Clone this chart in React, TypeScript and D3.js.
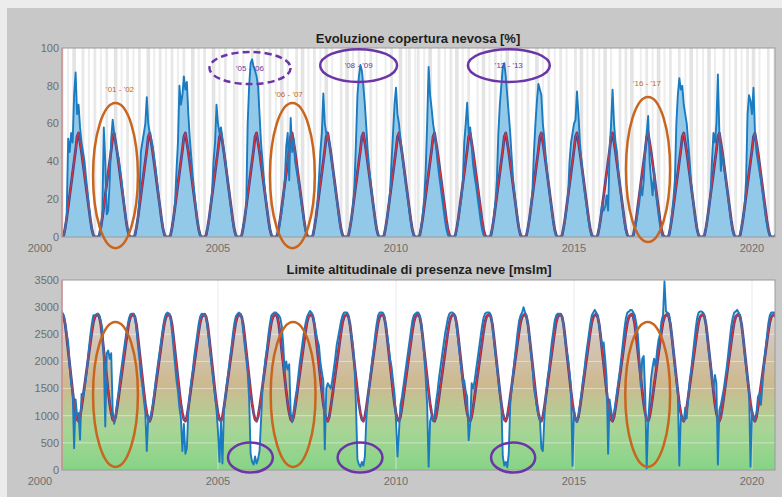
import React from "react";
import * as d3 from "d3";

// semi-monthly samples, each row is one season: 1 Aug .. 16 Jul
const START = 2000 + 7 / 12;
const STEP = 1 / 24;

const yearTicks = [2000, 2005, 2010, 2015, 2020];
const coverTicks = [0, 20, 40, 60, 80, 100];
const altitudeTicks = [0, 500, 1000, 1500, 2000, 2500, 3000, 3500];

// mean seasonal cycle (red line)
const coverClimate = [0, 0, 1, 5, 10, 16, 22, 28, 34, 40, 46, 53, 55, 50, 45, 39, 33, 27, 21, 15, 9, 4, 1, 0];
const altitudeClimate = [2850, 2870, 2820, 2680, 2450, 2200, 1950, 1700, 1450, 1220, 1050, 930, 900, 980, 1150, 1350, 1550, 1750, 1950, 2150, 2350, 2550, 2720, 2820];

// snow cover [%] (blue line)
const coverRows = [
  [0, 0, 1, 4, 12, 52, 45, 55, 50, 75, 87, 65, 70, 58, 50, 45, 40, 32, 24, 16, 9, 4, 1, 0],
  [0, 0, 1, 4, 12, 58, 40, 12, 14, 30, 52, 62, 55, 50, 45, 42, 36, 30, 22, 15, 9, 4, 1, 0],
  [0, 0, 1, 5, 10, 20, 45, 50, 55, 60, 74, 60, 55, 52, 48, 42, 36, 29, 21, 15, 9, 4, 1, 0],
  [0, 0, 1, 5, 10, 18, 35, 50, 80, 70, 75, 85, 78, 82, 65, 52, 42, 32, 24, 16, 9, 4, 1, 0],
  [0, 0, 1, 5, 9, 16, 24, 40, 50, 70, 60, 55, 58, 52, 45, 40, 33, 27, 20, 14, 8, 3, 1, 0],
  [0, 0, 1, 5, 10, 16, 60, 80, 92, 94, 90, 88, 85, 80, 65, 50, 40, 30, 22, 15, 9, 4, 1, 0],
  [0, 0, 1, 4, 9, 14, 20, 30, 48, 55, 30, 63, 45, 52, 40, 35, 30, 25, 19, 14, 8, 3, 1, 0],
  [0, 0, 1, 5, 10, 18, 30, 45, 55, 76, 60, 55, 52, 50, 45, 38, 32, 26, 20, 14, 8, 3, 1, 0],
  [0, 0, 1, 5, 10, 16, 28, 50, 75, 85, 91, 88, 80, 70, 58, 45, 36, 28, 21, 15, 9, 4, 1, 0],
  [0, 0, 1, 5, 10, 16, 24, 40, 55, 70, 79, 65, 60, 52, 45, 38, 32, 26, 20, 14, 8, 3, 1, 0],
  [0, 0, 1, 5, 12, 20, 35, 60, 90, 75, 68, 60, 55, 48, 40, 33, 27, 21, 15, 9, 4, 1, 0, 0],
  [0, 0, 1, 4, 9, 15, 20, 28, 50, 60, 71, 55, 58, 48, 38, 32, 27, 21, 15, 9, 4, 1, 0, 0],
  [0, 0, 1, 5, 11, 18, 30, 55, 70, 80, 90, 92, 85, 75, 65, 55, 42, 30, 22, 15, 9, 4, 1, 0],
  [0, 0, 1, 5, 10, 16, 25, 45, 60, 72, 81, 78, 75, 60, 52, 42, 33, 27, 20, 14, 8, 3, 1, 0],
  [0, 0, 1, 5, 9, 15, 22, 40, 50, 55, 60, 62, 77, 65, 50, 40, 32, 25, 19, 13, 8, 3, 1, 0],
  [0, 0, 1, 5, 10, 18, 14, 16, 22, 14, 45, 60, 78, 60, 50, 45, 33, 27, 20, 14, 8, 3, 1, 0],
  [0, 0, 1, 4, 8, 13, 18, 28, 22, 30, 45, 55, 64, 40, 30, 22, 35, 25, 18, 12, 6, 2, 0, 0],
  [0, 0, 1, 5, 12, 20, 30, 60, 75, 84, 78, 80, 70, 65, 60, 50, 40, 28, 21, 15, 9, 4, 1, 0],
  [0, 0, 1, 5, 10, 16, 22, 40, 55, 50, 60, 86, 55, 35, 45, 38, 32, 26, 20, 14, 8, 3, 1, 0],
  [0, 0, 1, 6, 10, 16, 30, 65, 75, 72, 65, 79, 55, 45, 40, 35, 30, 24, 18, 12, 7, 3, 1, 0],
];
const coverTail = [0, 0, 1];

// snow line altitude [m] (blue line)
const altitudeRows = [
  [2930, 2900, 2850, 2700, 2500, 2350, 1900, 1600, 1450, 400, 1300, 1000, 1050, 560, 1400, 1350, 1500, 1700, 1950, 2250, 2500, 2700, 2850, 2850],
  [2870, 2880, 2850, 2750, 2600, 2050, 800, 2150, 2200, 2050, 2150, 1100, 850, 1000, 1250, 1450, 1700, 1900, 2100, 2300, 2500, 2650, 2800, 2870],
  [2880, 2880, 2820, 2600, 2300, 2050, 1750, 1550, 1300, 1050, 350, 1000, 900, 1050, 1200, 1400, 1650, 1850, 2050, 2250, 2450, 2650, 2800, 2880],
  [2900, 2880, 2800, 2550, 2250, 1950, 1650, 1450, 1150, 950, 350, 850, 300, 400, 1100, 1400, 1650, 1850, 2100, 2300, 2500, 2700, 2830, 2880],
  [2870, 2870, 2800, 2600, 2350, 2100, 1850, 1600, 1350, 1100, 700, 150, 900, 120, 1100, 1350, 1600, 1800, 2050, 2250, 2500, 2700, 2830, 2870],
  [2900, 2880, 2800, 2550, 2300, 2050, 1800, 1300, 300, 150, 100, 250, 120, 200, 350, 900, 1500, 1800, 2050, 2250, 2500, 2700, 2850, 2880],
  [2900, 2900, 2880, 2850, 2800, 2650, 2300, 1800, 2000, 1850, 1950, 1050, 880, 1100, 1300, 1470, 1700, 1950, 2150, 2350, 2550, 2700, 2820, 2880],
  [2930, 2900, 2850, 2700, 2550, 2400, 2300, 2000, 1800, 1650, 380, 1500, 1600, 1550, 1500, 1650, 1850, 2050, 2300, 2450, 2600, 2750, 2850, 2900],
  [2900, 2900, 2850, 2650, 2450, 2300, 1950, 1200, 200, 100, 60, 150, 80, 250, 950, 1300, 1550, 1800, 2050, 2250, 2500, 2700, 2850, 2900],
  [2900, 2900, 2850, 2700, 2500, 2300, 2050, 1900, 1650, 1400, 900, 250, 700, 1200, 1350, 1550, 1750, 1950, 2150, 2350, 2550, 2750, 2850, 2880],
  [2900, 2900, 2850, 2700, 2450, 2100, 1700, 1200, 60, 900, 1000, 900, 1000, 1250, 1450, 1700, 1900, 2100, 2300, 2500, 2650, 2800, 2880, 2900],
  [2900, 2880, 2800, 2600, 2350, 2100, 1850, 1600, 1650, 1450, 1350, 550, 850, 1600, 1500, 1650, 1850, 2050, 2250, 2450, 2650, 2800, 2880, 2900],
  [2900, 2900, 2850, 2650, 2400, 2150, 1900, 1650, 1400, 1250, 250, 80, 150, 50, 300, 1200, 1500, 1800, 2050, 2300, 2550, 2750, 2850, 2900],
  [3000, 2900, 2850, 2650, 2400, 2150, 1900, 1500, 1350, 1150, 1000, 950, 400, 350, 950, 1350, 1650, 1850, 2100, 2350, 2550, 2750, 2850, 2880],
  [2880, 2870, 2820, 2650, 2400, 2200, 2050, 1800, 1500, 80, 1100, 950, 880, 1000, 1200, 1400, 1650, 1850, 2100, 2300, 2500, 2700, 2850, 2900],
  [2950, 2900, 2850, 2650, 2450, 2300, 2350, 2050, 1700, 300, 1300, 1100, 950, 1050, 1250, 1450, 1650, 1850, 2100, 2350, 2600, 2800, 2900, 2920],
  [2950, 2950, 2900, 2850, 2700, 2500, 2100, 1550, 2050, 2100, 1400, 30, 900, 1300, 1700, 1900, 2050, 1900, 2200, 2400, 2500, 2750, 2850, 3480],
  [2920, 2900, 2880, 2700, 2450, 2200, 1900, 1650, 1400, 80, 1000, 950, 900, 1150, 950, 1350, 1650, 1850, 2100, 2350, 2600, 2800, 2900, 2920],
  [2920, 2900, 2850, 2650, 2400, 2150, 1950, 1700, 1500, 1750, 1600, 100, 1100, 1200, 1350, 1500, 1700, 1900, 2150, 2400, 2650, 2800, 2900, 2920],
  [2950, 2900, 2850, 2650, 2450, 2150, 1900, 1650, 1500, 60, 1100, 1000, 950, 1050, 1350, 1400, 1200, 1550, 1900, 2200, 2450, 2700, 2850, 2900],
];
const altitudeTail = [2900, 2900, 2870];

// cloud-masked days behind the cover plot, monthly Aug .. Jul (0 = none)
const cloudRows = [
  [2, 0, 1, 0, 3, 0, 0, 2, 0, 1, 0, 2],
  [0, 1, 0, 2, 0, 0, 3, 0, 1, 0, 2, 0],
  [1, 0, 2, 0, 0, 3, 0, 1, 0, 2, 0, 1],
  [0, 2, 0, 1, 0, 2, 0, 0, 3, 0, 1, 0],
  [2, 0, 0, 3, 0, 1, 0, 2, 0, 0, 2, 1],
  [0, 1, 0, 0, 2, 0, 3, 0, 1, 0, 2, 0],
  [1, 0, 3, 0, 1, 0, 0, 2, 0, 3, 0, 1],
  [0, 2, 0, 1, 0, 3, 0, 1, 0, 0, 2, 0],
  [3, 0, 1, 0, 2, 0, 1, 0, 2, 0, 1, 0],
  [0, 1, 0, 2, 0, 0, 3, 0, 1, 2, 0, 1],
  [2, 0, 1, 0, 3, 0, 0, 2, 0, 1, 0, 2],
  [0, 3, 0, 1, 0, 2, 0, 0, 1, 0, 3, 0],
  [1, 0, 2, 0, 1, 0, 3, 0, 0, 2, 0, 1],
  [0, 2, 0, 0, 3, 0, 1, 0, 2, 0, 1, 0],
  [2, 0, 1, 0, 0, 2, 0, 3, 0, 1, 0, 2],
  [0, 1, 0, 3, 0, 1, 0, 0, 2, 0, 2, 0],
  [3, 0, 0, 1, 0, 2, 0, 1, 0, 3, 0, 1],
  [0, 2, 0, 0, 2, 0, 1, 0, 3, 0, 1, 0],
  [1, 0, 3, 0, 1, 0, 0, 2, 0, 1, 0, 2],
  [0, 1, 0, 2, 0, 3, 0, 1, 0, 0, 2, 0],
];
const cloudTail = [1];

// highlighted seasons: centre (year, value), radii (years, value units)
const coverNotes = [
  { label: "'01 - '02", cx: 2002.12, cy: 32.5, rx: 0.63, ry: 38.4, lx: 2002.25, ly: 78.3, color: "#c8661f", dashed: false },
  { label: "'06 - '07", cx: 2007.09, cy: 32.5, rx: 0.63, ry: 38.4, lx: 2006.99, ly: 75.7, color: "#c8661f", dashed: false },
  { label: "'16 - '17", cx: 2017.08, cy: 35.7, rx: 0.62, ry: 38.4, lx: 2017.05, ly: 81.5, color: "#c8661f", dashed: false },
  { label: "'05 - '06", cx: 2005.9, cy: 89.4, rx: 1.14, ry: 8.5, lx: 2005.9, ly: 89.4, color: "#6b35a8", dashed: true },
  { label: "'08 - '09", cx: 2008.95, cy: 90.7, rx: 1.08, ry: 8.7, lx: 2008.95, ly: 90.7, color: "#6b35a8", dashed: false },
  { label: "'12 - '13", cx: 2013.17, cy: 90.7, rx: 1.15, ry: 8.7, lx: 2013.17, ly: 90.7, color: "#6b35a8", dashed: false },
];
const altitudeNotes = [
  { cx: 2002.12, cy: 1391, rx: 0.63, ry: 1335, color: "#c8661f" },
  { cx: 2007.11, cy: 1391, rx: 0.63, ry: 1335, color: "#c8661f" },
  { cx: 2017.07, cy: 1391, rx: 0.63, ry: 1335, color: "#c8661f" },
  { cx: 2005.91, cy: 230, rx: 0.63, ry: 276, color: "#6b35a8" },
  { cx: 2008.99, cy: 230, rx: 0.63, ry: 276, color: "#6b35a8" },
  { cx: 2013.29, cy: 230, rx: 0.62, ry: 276, color: "#6b35a8" },
];

type Pt = { t: number; v: number };

const FONT = "'Liberation Sans', Arial, sans-serif";

export default function App() {
  const W = 782;
  const H = 497;
  const left = 62;
  const right = 775;
  const x = d3.scaleLinear().domain([2000, 2020]).range([40, 752]);
  const yC = d3.scaleLinear().domain([0, 100]).range([237, 48]);
  const yA = d3.scaleLinear().domain([0, 3500]).range([470, 280]);

  const cover: Pt[] = [...coverRows.flat(), ...coverTail].map((v, i) => ({ t: START + i * STEP, v }));
  const coverMean: Pt[] = cover.map((d, i) => ({ t: d.t, v: coverClimate[i % 24] }));
  const altitude: Pt[] = [...altitudeRows.flat(), ...altitudeTail].map((v, i) => ({ t: START + i * STEP, v }));
  const altitudeMean: Pt[] = altitude.map((d, i) => ({ t: d.t, v: altitudeClimate[i % 24] }));
  const clouds = [...cloudRows.flat(), ...cloudTail]
    .map((v, j) => ({ t: START + j / 12 + 1 / 24, v }))
    .filter((d) => d.v > 0);

  const lineC = d3.line<Pt>().x((d) => x(d.t)).y((d) => yC(d.v));
  const areaC = d3.area<Pt>().x((d) => x(d.t)).y0(yC(0)).y1((d) => yC(d.v));
  const lineA = d3.line<Pt>().x((d) => x(d.t)).y((d) => yA(d.v));
  const areaA = d3.area<Pt>().x((d) => x(d.t)).y0(yA(0)).y1((d) => yA(d.v));

  const tickText = { fontFamily: FONT, fontSize: 11, fill: "#6e6e6e" } as const;

  const panel = (y: d3.ScaleLinear<number, number>, ticks: number[], labelY: number) => (
    <g>
      {ticks.map((t) => (
        <text key={"y" + t} x={left - 3} y={y(t)} dy="0.35em" textAnchor="end" {...tickText}>
          {t}
        </text>
      ))}
      {yearTicks.map((yr) => (
        <text key={"x" + yr} x={x(yr)} y={labelY} textAnchor="middle" {...tickText}>
          {yr}
        </text>
      ))}
    </g>
  );

  // climatology: red core on a dark navy edge, as in the source figure
  const meanLine = (d: string) => (
    <g>
      <path d={d} fill="none" stroke="#34378a" strokeWidth={2.8} strokeLinejoin="round" opacity={0.9} />
      <path d={d} fill="none" stroke="#d8343e" strokeWidth={1.1} strokeLinejoin="round" />
    </g>
  );

  return (
    <svg width={W} height={H} style={{ position: "absolute", left: 0, top: 0 }}>
      <defs>
        <clipPath id="clipC">
          <rect x={left} y={yC(100)} width={right - left} height={yC(0) - yC(100)} />
        </clipPath>
        <clipPath id="clipA">
          <rect x={left} y={yA(3500)} width={right - left} height={yA(0) - yA(3500)} />
        </clipPath>
        <linearGradient id="altFill" gradientUnits="userSpaceOnUse" x1={0} x2={0} y1={yA(0)} y2={yA(3500)}>
          <stop offset="0" stopColor="#86d486" />
          <stop offset="0.22" stopColor="#a9d597" />
          <stop offset="0.45" stopColor="#cdb98f" />
          <stop offset="0.68" stopColor="#d3c6b8" />
          <stop offset="0.85" stopColor="#dcd8d4" />
          <stop offset="1" stopColor="#e6e6e6" />
        </linearGradient>
      </defs>

      <rect x={0} y={0} width={W} height={H} fill="#ececec" />
      <rect x={7} y={8} width={W - 7} height={H - 8} fill="#c8c8c8" />

      {/* top panel: snow cover */}
      <text x={418} y={43} textAnchor="middle" fontFamily={FONT} fontSize={13} fontWeight="bold" fill="#1e1e1e">
        Evoluzione copertura nevosa [%]
      </text>
      <rect x={left} y={yC(100)} width={right - left} height={yC(0) - yC(100)} fill="#ffffff" />
      <g clipPath="url(#clipC)">
        {clouds.map((d, i) => (
          <rect
            key={i}
            x={x(d.t) - 0.6 - d.v * 0.4}
            y={yC(100)}
            width={1.2 + d.v * 0.8}
            height={yC(0) - yC(100)}
            fill="#d6d6d6"
            opacity={0.3 + d.v * 0.13}
          />
        ))}
        <path d={areaC(cover) ?? ""} fill="#92c9e8" />
        {meanLine(lineC(coverMean) ?? "")}
        <path d={lineC(cover) ?? ""} fill="none" stroke="#1b7bc0" strokeWidth={1.9} strokeLinejoin="round" />
        <path d={lineC(coverMean) ?? ""} fill="none" stroke="#d8343e" strokeWidth={1.1} opacity={0.55} />
      </g>
      <rect x={left} y={yC(100)} width={right - left} height={yC(0) - yC(100)} fill="none" stroke="#9a9a9a" strokeWidth={1} />
      <line x1={left} x2={left} y1={yC(100)} y2={yC(0)} stroke="#d98a8a" strokeWidth={1.2} />
      {panel(yC, coverTicks, 252)}

      {/* bottom panel: snow line altitude */}
      <text x={419} y={274} textAnchor="middle" fontFamily={FONT} fontSize={13} fontWeight="bold" fill="#1e1e1e">
        Limite altitudinale di presenza neve [mslm]
      </text>
      <rect x={left} y={yA(3500)} width={right - left} height={yA(0) - yA(3500)} fill="#ffffff" />
      <g clipPath="url(#clipA)">
        <path d={areaA(altitude) ?? ""} fill="url(#altFill)" />
        {altitudeTicks.slice(1, -1).map((t) => (
          <line key={t} x1={left} x2={right} y1={yA(t)} y2={yA(t)} stroke="#ffffff" strokeOpacity={0.45} />
        ))}
        {yearTicks.slice(1).map((yr) => (
          <line key={yr} x1={x(yr)} x2={x(yr)} y1={yA(3500)} y2={yA(0)} stroke="#e4e4e4" strokeOpacity={0.8} />
        ))}
        {meanLine(lineA(altitudeMean) ?? "")}
        <path d={lineA(altitude) ?? ""} fill="none" stroke="#1b7bc0" strokeWidth={1.9} strokeLinejoin="round" />
        <path d={lineA(altitudeMean) ?? ""} fill="none" stroke="#d8343e" strokeWidth={1.1} opacity={0.55} />
      </g>
      <rect x={left} y={yA(3500)} width={right - left} height={yA(0) - yA(3500)} fill="none" stroke="#9a9a9a" strokeWidth={1} />
      <line x1={left} x2={left} y1={yA(3500)} y2={yA(0)} stroke="#d98a8a" strokeWidth={1.2} />
      {panel(yA, altitudeTicks, 485)}

      {/* annotations */}
      {coverNotes.map((n) => (
        <g key={n.label}>
          <ellipse
            cx={x(n.cx)}
            cy={yC(n.cy)}
            rx={x(n.cx + n.rx) - x(n.cx)}
            ry={yC(n.cy - n.ry) - yC(n.cy)}
            fill="none"
            stroke={n.color}
            strokeWidth={2.5}
            strokeDasharray={n.dashed ? "7 4" : undefined}
          />
          <text x={x(n.lx)} y={yC(n.ly)} dy="0.35em" textAnchor="middle" fontFamily={FONT} fontSize={8} fill={n.color}>
            {n.label}
          </text>
        </g>
      ))}
      {altitudeNotes.map((n, i) => (
        <ellipse
          key={i}
          cx={x(n.cx)}
          cy={yA(n.cy)}
          rx={x(n.cx + n.rx) - x(n.cx)}
          ry={yA(n.cy - n.ry) - yA(n.cy)}
          fill="none"
          stroke={n.color}
          strokeWidth={2.5}
        />
      ))}
    </svg>
  );
}
